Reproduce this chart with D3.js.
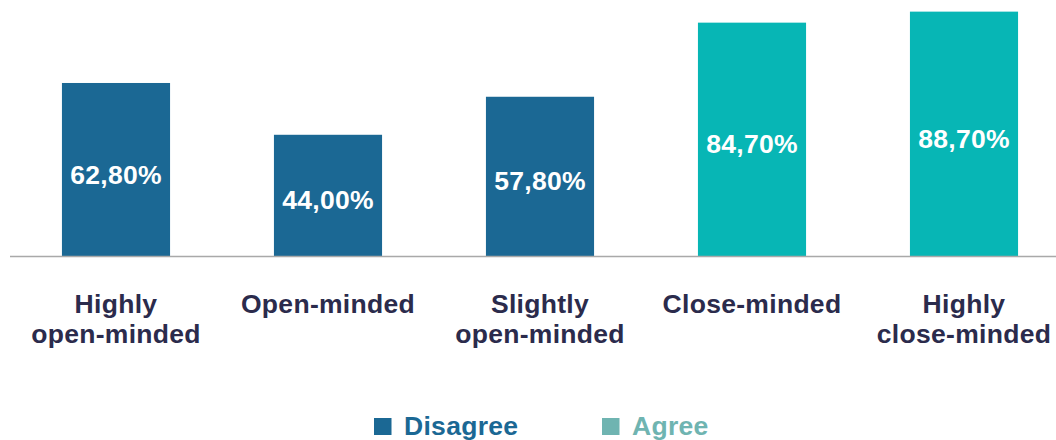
<!DOCTYPE html>
<html>
<head>
<meta charset="utf-8">
<script src="https://cdn.jsdelivr.net/npm/d3@7"></script>
<style>
  html, body { margin: 0; padding: 0; background: #ffffff; }
  svg { display: block; font-family: "Liberation Sans", Arial, Helvetica, sans-serif; }
</style>
</head>
<body>
<svg id="chart" width="1056" height="440"></svg>
<script>
// Share of respondents per openness profile
const categories = [
  ["Highly", "open-minded"],
  ["Open-minded"],
  ["Slightly", "open-minded"],
  ["Close-minded"],
  ["Highly", "close-minded"]
];
const values = [62.8, 44.0, 57.8, 84.7, 88.7];
const groups = ["Disagree", "Disagree", "Disagree", "Agree", "Agree"];
const legendLabels = ["Disagree", "Agree"];

const barColor = { Disagree: "#1b6894", Agree: "#07b6b5" };
const legendColor = { Disagree: "#1b6894", Agree: "#6fb4b1" };

const svg = d3.select("#chart");
const baseY = 256;
const fontSize = 26.5;

const keys = categories.map((c, i) => i);
const x = d3.scaleBand()
  .domain(keys)
  .range([10, 1070])
  .paddingInner(0.49)
  .paddingOuter(0.245);

const y = d3.scaleLinear()
  .domain([0, 100])
  .range([baseY, baseY - 275.5]);

const fmt = v => d3.format(".2f")(v).replace(".", ",") + "%";

// bars
svg.append("g").selectAll("rect")
  .data(values)
  .join("rect")
  .attr("x", (d, i) => x(i))
  .attr("y", d => y(d))
  .attr("width", x.bandwidth())
  .attr("height", d => y(0) - y(d))
  .attr("fill", (d, i) => barColor[groups[i]]);

// value labels, centred in each bar
svg.append("g").selectAll("text")
  .data(values)
  .join("text")
  .attr("x", (d, i) => x(i) + x.bandwidth() / 2)
  .attr("y", d => (y(d) + y(0)) / 2)
  .attr("dy", "0.53em")
  .attr("text-anchor", "middle")
  .attr("fill", "#ffffff")
  .attr("font-weight", "bold")
  .attr("font-size", fontSize)
  .attr("letter-spacing", 0.3)
  .text(d => fmt(d));

// baseline
svg.append("line")
  .attr("x1", 10).attr("x2", 1056)
  .attr("y1", baseY + 0.5).attr("y2", baseY + 0.5)
  .attr("stroke", "#a9a9a9")
  .attr("stroke-width", 1.5);

// category labels
const cat = svg.append("g").selectAll("text")
  .data(categories)
  .join("text")
  .attr("x", (d, i) => x(i) + x.bandwidth() / 2)
  .attr("y", 312.5)
  .attr("text-anchor", "middle")
  .attr("fill", "#2b2b4c")
  .attr("font-weight", "bold")
  .attr("font-size", fontSize)
  .attr("letter-spacing", 0.3);
cat.selectAll("tspan")
  .data((d, i) => d.map(t => ({ t, i })))
  .join("tspan")
  .attr("x", d => x(d.i) + x.bandwidth() / 2)
  .attr("dy", (d, j) => j === 0 ? 0 : 30.5)
  .text(d => d.t);

// legend
const legendX = [374, 602];
const lg = svg.append("g").selectAll("g")
  .data(legendLabels)
  .join("g")
  .attr("transform", (d, i) => `translate(${legendX[i]},435)`);
lg.append("rect")
  .attr("x", 0).attr("y", -17)
  .attr("width", 17.5).attr("height", 17)
  .attr("fill", d => legendColor[d]);
lg.append("text")
  .attr("x", 30)
  .attr("y", 0)
  .attr("fill", d => legendColor[d])
  .attr("font-weight", "bold")
  .attr("font-size", fontSize)
  .attr("letter-spacing", 0.3)
  .text(d => d);
</script>
</body>
</html>
